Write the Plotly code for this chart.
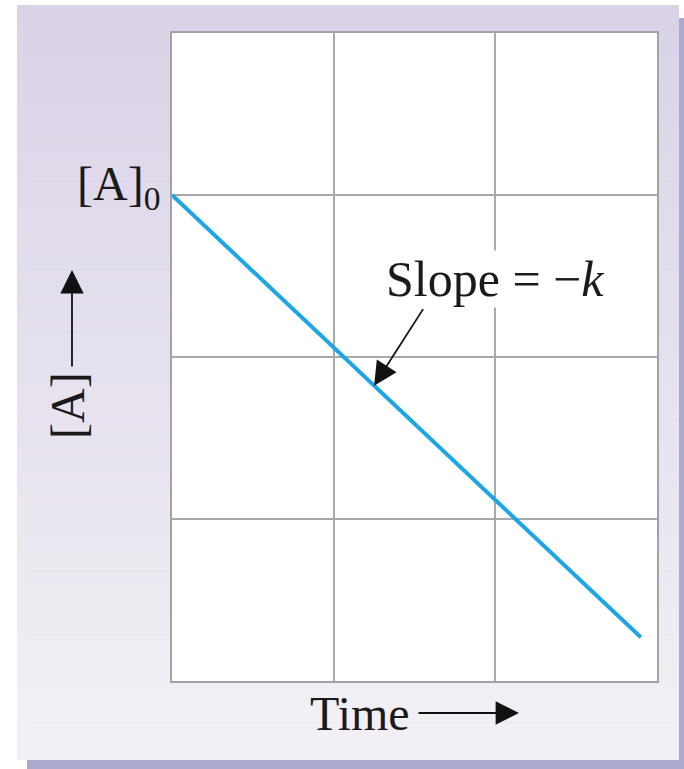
import numpy as np
import plotly.graph_objects as go

# zero-order decay: [A] falls linearly from [A]0
time = [0.0, 2.9]
conc = [3.0, 0.27]
a0_value = 3.0

x_range = [0, 3]
y_range = [0, 4]

W, H = 684, 769
L, R, T, B = 172, 27, 33, 88
FONT = "Liberation Serif"
INK = "#1a1a1a"


def px(x):
    return (x - L) / (W - L - R)


def py(y):
    return (H - B - y) / (H - T - B)


def mix(c1, c2, f):
    return "rgb({},{},{})".format(*[round(a + (b - a) * f) for a, b in zip(c1, c2)])


fig = go.Figure()

fig.add_trace(go.Scatter(
    x=time, y=conc, mode="lines",
    line=dict(color="#1ea5e4", width=4),
    showlegend=False, hoverinfo="skip",
))

shapes = []
# drop shadow behind the panel
shapes.append(dict(type="rect", xref="paper", yref="paper", layer="below",
                   x0=px(27), x1=px(684), y0=py(769), y1=py(18),
                   line=dict(width=0), fillcolor="#aba9cd"))
# panel with vertical lavender gradient
top_c, bot_c = (218, 211, 231), (243, 240, 245)
n = 60
y_top, y_bot = 5, 760
for i in range(n):
    a = y_top + (y_bot - y_top) * i / n
    b = y_top + (y_bot - y_top) * (i + 1) / n + 0.6
    shapes.append(dict(type="rect", xref="paper", yref="paper", layer="below",
                       x0=px(17), x1=px(679), y0=py(min(b, y_bot)), y1=py(a),
                       line=dict(width=0), fillcolor=mix(top_c, bot_c, i / (n - 1))))
# white plotting area
shapes.append(dict(type="rect", xref="paper", yref="paper", layer="below",
                   x0=0, x1=1, y0=0, y1=1, line=dict(width=0), fillcolor="white"))

arrow_x = 1.25
arrow_y = float(np.interp(arrow_x, time, conc))
head = dict(arrowhead=2, arrowsize=2.6, arrowwidth=1.8, arrowcolor="#111111", standoff=0)

annotations = [
    dict(x=0, y=a0_value, xref="x", yref="y", text="[A]<sub>0</sub>",
         showarrow=False, xanchor="right", yanchor="middle", xshift=-10, yshift=8,
         font=dict(family=FONT, size=48, color=INK)),
    dict(x=2.0, y=2.48, xref="x", yref="y", text="Slope = \u2212<i>k</i>",
         showarrow=False, bgcolor="white", borderpad=0,
         xanchor="center", yanchor="middle",
         font=dict(family=FONT, size=50, color=INK)),
    dict(x=arrow_x, y=arrow_y, xref="x", yref="y", text="", showarrow=True,
         ax=50, ay=-78, **head),
    dict(x=px(67), y=py(406), xref="paper", yref="paper", text="[A]",
         textangle=-90, showarrow=False, xanchor="center", yanchor="middle",
         font=dict(family=FONT, size=48, color=INK)),
    dict(x=px(72), y=py(270), xref="paper", yref="paper", text="", showarrow=True,
         ax=0, ay=98, **head),
    dict(x=px(360), y=py(713), xref="paper", yref="paper", text="Time",
         showarrow=False, xanchor="center", yanchor="middle",
         font=dict(family=FONT, size=48, color=INK)),
    dict(x=px(519), y=py(713), xref="paper", yref="paper", text="", showarrow=True,
         ax=-102, ay=0, **head),
]

axis_style = dict(showgrid=True, gridcolor="#a9a9a9", gridwidth=2,
                  showline=True, linecolor="#a3a3a3", linewidth=2, mirror=True,
                  zeroline=False, showticklabels=False, ticks="", dtick=1,
                  fixedrange=True)

fig.update_layout(
    width=W, height=H,
    margin=dict(l=L, r=R, t=T, b=B),
    paper_bgcolor="white",
    plot_bgcolor="rgba(0,0,0,0)",
    xaxis=dict(range=x_range, **axis_style),
    yaxis=dict(range=y_range, **axis_style),
    shapes=shapes,
    annotations=annotations,
    showlegend=False,
)

# drop the page's default body margin so the figure sits at the window corner
fig.write_html("out.html", config={"displayModeBar": False},
               post_script="document.body.style.margin = '0';")
